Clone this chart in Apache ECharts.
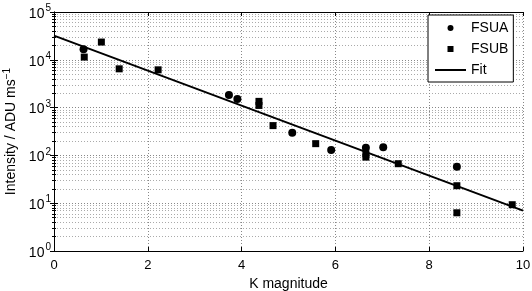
<!DOCTYPE html>
<html><head><meta charset="utf-8">
<script src="https://cdn.jsdelivr.net/npm/echarts@6/dist/echarts.min.js"></script>
<style>html,body{margin:0;padding:0;background:#fff}#c{width:532px;height:291px}</style>
</head><body><div id="c"></div>
<script>
var xTicks = [0, 2, 4, 6, 8, 10];
var fsuaData = [[0.63,16700],[3.73,1840],[3.91,1515],[5.08,299],[5.91,130],[6.65,145],[7.02,148],[8.59,58]];
var fsubData = [[0.645,11400],[1.01,23500],[1.39,6470],[2.22,6170],[4.37,1350],[4.37,1110],[4.67,420],[5.58,176],[6.65,108],[6.65,92],[7.34,67],[8.59,23.2],[8.59,6.3],[9.77,9.3]];
var fitData = [[0,32000],[10,7]];

var FONT = 'Liberation Sans';
var dotted = {color: '#888', width: 1, type: [1, 2]};
var dottedMinor = {color: '#aaa', width: 1, type: [1, 2]};

function supLabel(v) {
  var e = Math.round(Math.log10(v));
  return '{b|10}{s|' + e + '}';
}

var chart = echarts.init(document.getElementById('c'), null, {renderer: 'canvas'});
chart.setOption({
  animation: false,
  backgroundColor: '#fff',
  grid: {left: 54, right: 9, top: 12, bottom: 40, containLabel: false, outerBoundsMode: 'none'},
  textStyle: {fontFamily: FONT},
  legend: {
    left: 428, top: 15,
    orient: 'vertical',
    backgroundColor: '#fff',
    borderColor: '#000', borderWidth: 1, borderRadius: 0,
    padding: [6, 5, 5, 6],
    itemGap: 7,
    itemWidth: 31, itemHeight: 6,
    symbolKeepAspect: true,
    textStyle: {fontFamily: FONT, fontSize: 14, color: '#000', lineHeight: 14},
    data: [
      {name: 'FSUA', icon: 'circle'},
      {name: 'FSUB', icon: 'path://M0,0H10V10H0Z'},
      {name: 'Fit', itemStyle: {opacity: 0, color: 'rgba(0,0,0,0)'}}
    ]
  },
  xAxis: [{
    type: 'value', min: xTicks[0], max: xTicks[xTicks.length - 1], interval: 2,
    name: 'K magnitude', nameLocation: 'middle', nameGap: 26,
    nameTextStyle: {fontFamily: FONT, fontSize: 14, color: '#000'},
    axisLine: {show: true, lineStyle: {color: '#000', width: 1}},
    axisTick: {show: true, inside: true, length: 4, lineStyle: {color: '#000'}},
    axisLabel: {fontFamily: FONT, fontSize: 13, color: '#000', margin: 8},
    splitLine: {show: true, lineStyle: dotted}
  }, {
    type: 'value', position: 'top', min: xTicks[0], max: xTicks[xTicks.length - 1], interval: 2,
    axisLine: {show: true, lineStyle: {color: '#000', width: 1}},
    axisTick: {show: true, inside: true, length: 4, lineStyle: {color: '#000'}},
    axisLabel: {show: false}, splitLine: {show: false}
  }],
  yAxis: [{
    type: 'log', logBase: 10, min: 1, max: 100000,
    name: 'Intensity / ADU ms{s|\u22121}', nameLocation: 'middle', nameGap: 32,
    nameTextStyle: {fontFamily: FONT, fontSize: 14, color: '#000',
      rich: {s: {fontFamily: FONT, fontSize: 10, color: '#000', verticalAlign: 'top', padding: [0, 0, 8, 0]}}},
    axisLine: {show: true, lineStyle: {color: '#000', width: 1}},
    axisTick: {show: true, inside: true, length: 4, lineStyle: {color: '#000'}},
    minorTick: {show: true, splitNumber: 9, length: 2, lineStyle: {color: '#000'}},
    axisLabel: {fontFamily: FONT, color: '#000', margin: 3, formatter: supLabel,
      rich: {b: {fontFamily: FONT, fontSize: 14, color: '#000', padding: [4, 0, 0, 0]},
             s: {fontFamily: FONT, fontSize: 10, color: '#000', padding: [0, 0, 7, 1]}}},
    splitLine: {show: true, lineStyle: dotted},
    minorSplitLine: {show: true, lineStyle: dottedMinor}
  }, {
    type: 'log', logBase: 10, min: 1, max: 100000, position: 'right',
    axisLine: {show: true, lineStyle: {color: '#000', width: 1}},
    axisTick: {show: true, inside: true, length: 4, lineStyle: {color: '#000'}},
    minorTick: {show: true, splitNumber: 9, length: 2, lineStyle: {color: '#000'}},
    axisLabel: {show: false}, splitLine: {show: false}
  }],
  series: [{
    name: 'Fit', type: 'line', data: fitData, symbol: 'none', showSymbol: false,
    lineStyle: {color: '#000', width: 2}, itemStyle: {color: '#000'}, z: 3
  }, {
    name: 'FSUA', type: 'scatter', data: fsuaData, symbol: 'circle', symbolSize: 8,
    itemStyle: {color: '#000', opacity: 1}, z: 4
  }, {
    name: 'FSUB', type: 'scatter', data: fsubData, symbol: 'rect', symbolSize: 7,
    itemStyle: {color: '#000', opacity: 1}, z: 4
  }]
});
</script></body></html>
